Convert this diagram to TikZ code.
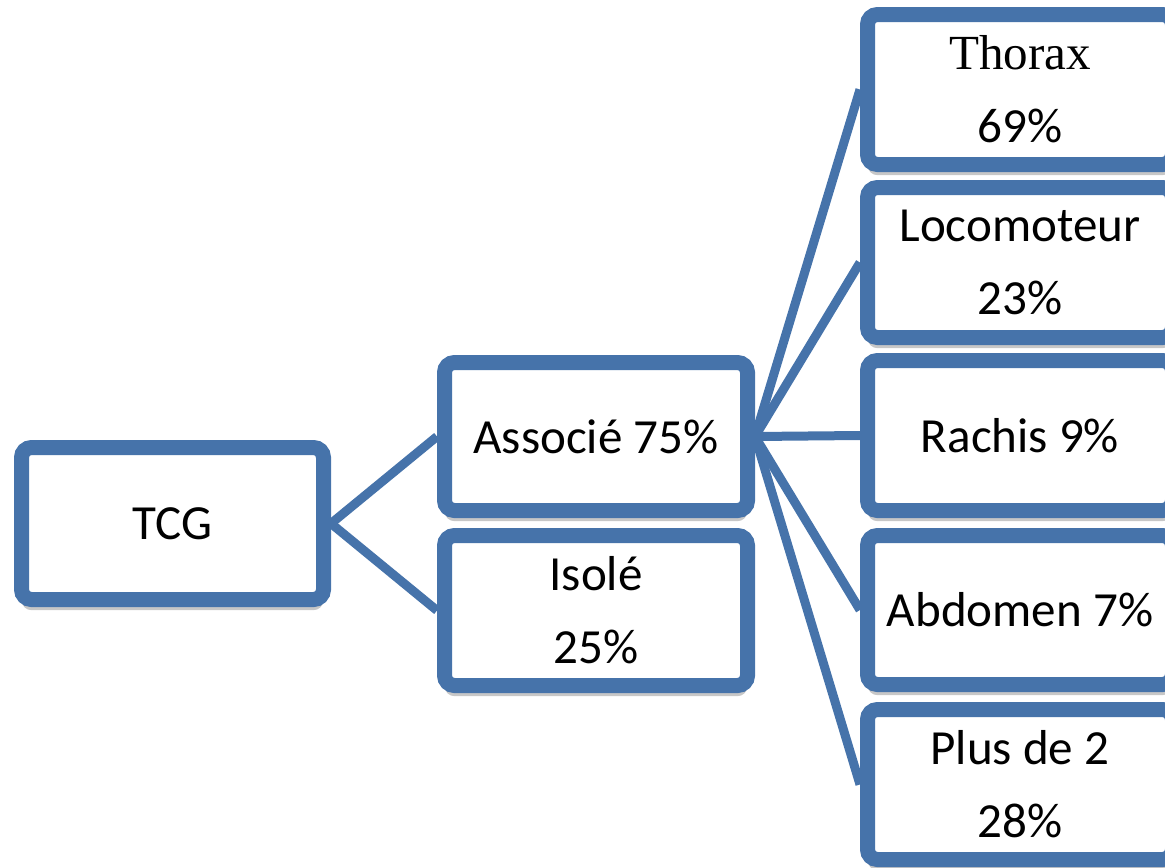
\documentclass[tikz,border=0pt]{standalone}
\usepackage{fontspec}
\setmainfont{Carlito}
\newfontfamily\seriffont{Liberation Serif}
\usetikzlibrary{shadows,backgrounds}
\definecolor{boxblue}{RGB}{70,115,170}
\tikzset{
  box/.style={draw=boxblue, line width=11.25pt, fill=white, rounded corners=7.5pt,
    inner sep=0pt, align=center, text=black,
    font=\fontsize{36.8}{54.75}\selectfont,
    drop shadow={shadow xshift=0pt, shadow yshift=-8pt, opacity=0.22, fill=black}},
  sidebox/.style={box, minimum width=228.75pt, minimum height=112.5pt},
  link/.style={draw=boxblue, line width=6.75pt}
}
\begin{document}
\begin{tikzpicture}[x=0.75pt,y=-0.75pt]
\useasboundingbox (0,0) rectangle (1165,868);
\clip (0,0) rectangle (1165,868);
\node[box, minimum width=226.5pt, minimum height=114pt] (tcg) at (172.5,523.5) {TCG};
\node[box, minimum width=227.25pt, minimum height=111pt] (assoc) at (596,436.5) {Associé 75\%};
\node[box, minimum width=227.25pt, minimum height=112.5pt] (isole) at (596,610.5) {Isolé\\25\%};
\node[sidebox] (thorax) at (1020,89.5) {{\seriffont Thorax}\\69\%};
\node[sidebox] (loco) at (1020,262.5) {Locomoteur\\23\%};
\node[sidebox] (rachis) at (1020,435.5) {Rachis 9\%};
\node[sidebox, minimum height=111.75pt] (abdo) at (1020,610) {Abdomen 7\%};
\node[sidebox] (plus) at (1020,784.5) {Plus de 2\\28\%};
\begin{scope}[on background layer]
  \draw[link] (tcg.east) -- (assoc.west);
  \draw[link] (tcg.east) -- (isole.west);
  \draw[link] (assoc.east) -- (thorax.west);
  \draw[link] (assoc.east) -- (loco.west);
  \draw[link] (assoc.east) -- (rachis.west);
  \draw[link] (assoc.east) -- (abdo.west);
  \draw[link] (assoc.east) -- (plus.west);
\end{scope}
\end{tikzpicture}
\end{document}
